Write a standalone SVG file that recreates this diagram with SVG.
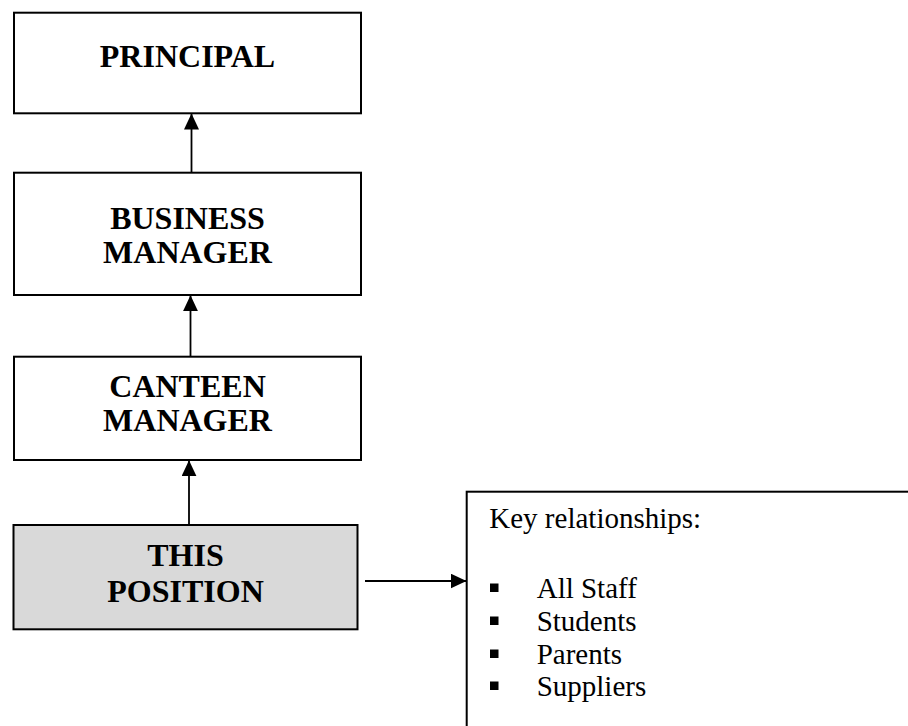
<svg xmlns="http://www.w3.org/2000/svg" width="908" height="726" viewBox="0 0 908 726">
  <defs>
    <style>
      .box { fill: #ffffff; stroke: #000000; stroke-width: 2; }
      .box.self { fill: #d9d9d9; }
      .title { font-family: "Liberation Serif", "Times New Roman", serif; font-weight: bold; font-size: 32px; fill: #000000; text-anchor: middle; }
      .body { font-family: "Liberation Serif", "Times New Roman", serif; font-size: 29px; fill: #000000; }
      .link { stroke: #000000; stroke-width: 1.8; fill: none; marker-end: url(#arrow); }
      .bullet { fill: #000000; }
    </style>
    <marker id="arrow" markerUnits="userSpaceOnUse" markerWidth="16" markerHeight="15" refX="16" refY="7.5" orient="auto">
      <path d="M0,0 L16,7.5 L0,15 Z" fill="#000000"/>
    </marker>
  </defs>

  <rect width="908" height="726" fill="#ffffff"/>

  <!-- reporting line -->
  <g id="connectors">
    <line class="link" x1="191.5" y1="172.7" x2="191.5" y2="113.5"/>
    <line class="link" x1="190.5" y1="356.7" x2="190.5" y2="295.2"/>
    <line class="link" x1="189" y1="525" x2="189" y2="460.2"/>
    <line class="link" x1="365" y1="581" x2="466.5" y2="581"/>
  </g>

  <g id="principal">
    <rect class="box" x="14" y="12.7" width="347" height="100.6"/>
    <text class="title" x="187.5" y="66.7">PRINCIPAL</text>
  </g>

  <g id="business-manager">
    <rect class="box" x="14" y="172.7" width="347" height="122.3"/>
    <text class="title" x="187.5" y="228.5">BUSINESS</text>
    <text class="title" x="187.5" y="262.5">MANAGER</text>
  </g>

  <g id="canteen-manager">
    <rect class="box" x="14" y="356.7" width="347" height="103.3"/>
    <text class="title" x="187.5" y="397">CANTEEN</text>
    <text class="title" x="187.5" y="431">MANAGER</text>
  </g>

  <g id="this-position">
    <rect class="box self" x="13.5" y="525" width="344" height="104.3"/>
    <text class="title" x="185.5" y="566">THIS</text>
    <text class="title" x="185.5" y="601.7">POSITION</text>
  </g>

  <!-- relationships panel runs off the right and bottom edges -->
  <g id="key-relationships">
    <rect class="box" x="466.7" y="491.7" width="460" height="260"/>
    <text class="body" x="489.3" y="528.3">Key relationships:</text>
    <rect class="bullet" x="490" y="583.5" width="8.5" height="8.5"/>
    <text class="body" x="536.7" y="597.7">All Staff</text>
    <rect class="bullet" x="490" y="616.5" width="8.5" height="8.5"/>
    <text class="body" x="536.7" y="630.7">Students</text>
    <rect class="bullet" x="490" y="649.5" width="8.5" height="8.5"/>
    <text class="body" x="536.7" y="664">Parents</text>
    <rect class="bullet" x="490" y="681.5" width="8.5" height="8.5"/>
    <text class="body" x="536.7" y="695.5">Suppliers</text>
  </g>
</svg>
